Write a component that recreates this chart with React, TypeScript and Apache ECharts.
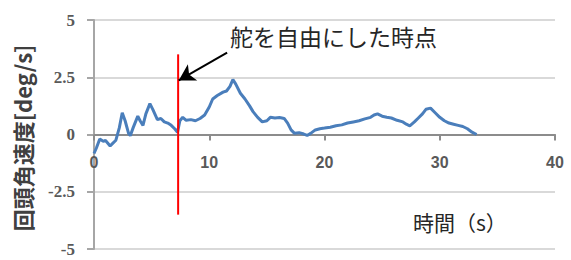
import React, { useEffect, useRef } from "react";
import * as echarts from "echarts";

// [time (s), yaw rate (deg/s)]
const angularRate: [number, number][] = [
  [0, -0.83], [0.2, -0.6], [0.5, -0.2], [0.8, -0.3], [1.0, -0.26], [1.4, -0.5],
  [1.6, -0.4], [1.9, -0.25], [2.2, 0.3], [2.45, 0.95], [2.7, 0.6], [3.0, 0.05],
  [3.15, -0.05], [3.4, 0.3], [3.8, 0.8], [4.0, 0.6], [4.25, 0.4], [4.5, 0.9],
  [4.85, 1.35], [5.1, 1.1], [5.5, 0.65], [5.8, 0.7], [6.1, 0.55], [6.4, 0.5],
  [6.7, 0.4], [7.0, 0.25], [7.25, 0.1], [7.45, 0.6], [7.7, 0.75], [8.0, 0.62],
  [8.4, 0.65], [8.8, 0.6], [9.2, 0.7], [9.6, 0.85], [10.0, 1.2], [10.3, 1.55],
  [10.7, 1.7], [11.2, 1.85], [11.5, 1.9], [11.8, 2.1], [12.05, 2.4], [12.3, 2.2],
  [12.7, 1.8], [13.1, 1.55], [13.5, 1.25], [13.8, 1.0], [14.2, 0.75], [14.6, 0.55],
  [15.0, 0.6], [15.3, 0.75], [15.7, 0.72], [16.1, 0.74], [16.5, 0.7], [16.8, 0.5],
  [17.1, 0.2], [17.4, 0.05], [17.8, 0.08], [18.2, 0.02], [18.5, -0.04], [18.8, 0.05],
  [19.2, 0.2], [19.6, 0.25], [20.0, 0.28], [20.5, 0.32], [21.0, 0.38], [21.5, 0.42],
  [22.0, 0.5], [22.5, 0.55], [23.0, 0.6], [23.5, 0.68], [24.0, 0.75], [24.3, 0.85],
  [24.6, 0.9], [25.0, 0.8], [25.4, 0.75], [25.8, 0.72], [26.3, 0.62], [26.8, 0.55],
  [27.1, 0.45], [27.4, 0.38], [27.8, 0.55], [28.1, 0.7], [28.5, 0.9], [28.8, 1.1],
  [29.2, 1.15], [29.6, 0.95], [30.0, 0.75], [30.4, 0.6], [30.8, 0.5], [31.2, 0.45],
  [31.6, 0.4], [32.0, 0.35], [32.4, 0.25], [32.8, 0.1], [33.2, 0.0],
];

// moment the rudder was released
const releaseMarker: [number, number][] = [[7.3, 3.5], [7.3, -3.5]];
const arrowFrom: [number, number] = [11.55, 3.58];
const arrowTo: [number, number] = [7.35, 2.36];

const xTicks = { min: 0, max: 40, interval: 10 };
const yTicks = { min: -5, max: 5, interval: 2.5 };

const annotationText = "舵を自由にした時点";
const xTitle = "時間（s）";
const yTitle = "回頭角速度[deg/s]";

const GRID_H = 229;
// the time axis crosses the rate axis at 0
const xAxisOffset = -GRID_H * (0 - yTicks.min) / (yTicks.max - yTicks.min);

export default function App() {
  const ref = useRef<HTMLDivElement>(null);
  useEffect(() => {
    if (!ref.current) return;
    const chart = echarts.init(ref.current, null, { renderer: "svg" });
    chart.setOption({
      animation: false,
      grid: {
        left: 94,
        top: 20,
        width: 461,
        height: GRID_H,
        containLabel: false,
        outerBoundsMode: "none",
      },
      xAxis: {
        type: "value",
        ...xTicks,
        position: "bottom",
        offset: xAxisOffset,
        axisLine: { onZero: false, lineStyle: { color: "#8c8c8c", width: 2 } },
        axisTick: { show: true, length: 6, lineStyle: { color: "#8c8c8c", width: 2 } },
        axisLabel: {
          margin: 20,
          color: "#595959",
          fontFamily: "Liberation Sans",
          fontWeight: "bold",
          fontSize: 16,
        },
        splitLine: { show: false },
      },
      yAxis: {
        type: "value",
        ...yTicks,
        axisLine: { show: true, onZero: false, lineStyle: { color: "#a6a6a6", width: 2 } },
        axisTick: { show: true, length: 7, lineStyle: { color: "#a6a6a6", width: 2 } },
        axisLabel: {
          margin: 19,
          color: "#595959",
          fontFamily: "Liberation Serif",
          fontWeight: "bold",
          fontSize: 17,
          formatter: (v: number) => String(v),
        },
        splitLine: { show: true, lineStyle: { color: "#d9d9d9", width: 2 } },
      },
      series: [
        {
          type: "line",
          data: angularRate,
          showSymbol: false,
          lineStyle: { color: "#4a7ebb", width: 3 },
          z: 3,
        },
        {
          type: "line",
          data: releaseMarker,
          showSymbol: false,
          lineStyle: { color: "#ff0000", width: 2 },
          z: 4,
          markLine: {
            silent: true,
            symbol: ["none", "arrow"],
            symbolSize: [14, 16],
            label: { show: false },
            lineStyle: { color: "#000000", width: 2, type: "solid" },
            data: [[{ coord: arrowFrom }, { coord: arrowTo }]],
          },
        },
      ],
      graphic: [
        {
          type: "text",
          left: 230,
          top: 24,
          style: {
            text: annotationText,
            fontSize: 23,
            fontFamily: "Noto Sans CJK JP",
            fill: "#262626",
          },
        },
        {
          type: "text",
          left: 413,
          top: 211,
          style: {
            text: xTitle,
            fontSize: 21,
            fontFamily: "Noto Sans CJK JP",
            fill: "#262626",
          },
        },
        {
          type: "text",
          x: 22,
          y: 138,
          rotation: Math.PI / 2,
          style: {
            text: yTitle,
            fontSize: 22,
            fontWeight: "bold",
            fontFamily: "Noto Sans CJK JP",
            fill: "#404040",
            align: "center",
            verticalAlign: "middle",
          },
        },
      ],
    });
    return () => chart.dispose();
  }, []);
  return <div ref={ref} style={{ width: 571, height: 260, position: "absolute", left: 0, top: 0 }} />;
}
